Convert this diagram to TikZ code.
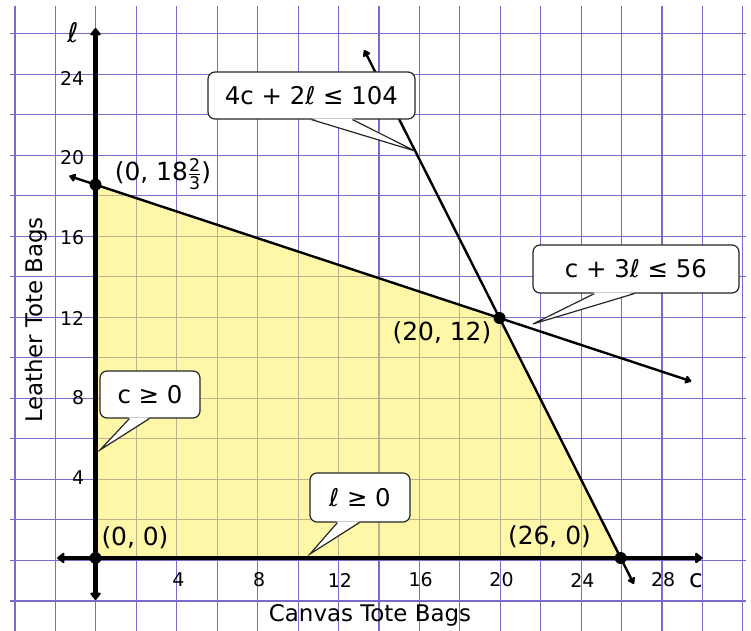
\documentclass[tikz,border=0pt]{standalone}
\usepackage{amsmath}
\usepackage{fontspec}
\setmainfont{DejaVu Sans}
\usetikzlibrary{arrows.meta,calc}
\definecolor{gridpurple}{RGB}{125,105,205}
\definecolor{gridtan}{RGB}{190,176,140}
\definecolor{feasible}{RGB}{255,247,168}
\newcommand{\mkpointer}[4]{%
  \fill[white] ($(#1.south west)+(#2,1.3)$) -- (#4) -- ($(#1.south west)+(#3,1.3)$) -- cycle;
  \draw[bubbleline] ($(#1.south west)+(#2,0)$) -- (#4) -- ($(#1.south west)+(#3,0)$);
}
\begin{document}
\begin{tikzpicture}[x=1bp,y=1bp,
  gridline/.style={draw=gridpurple, line width=1.1bp},
  gridtanline/.style={draw=gridtan, line width=1.1bp},
  axis/.style={line width=4.5bp, {Triangle[round,width=12bp,length=8bp]}-{Triangle[round,width=12bp,length=8bp]}},
  cline/.style={line width=2.4bp, {Triangle[round,width=9bp,length=7bp]}-{Triangle[round,width=9bp,length=7bp]}},
  dot/.style={circle, fill=black, inner sep=0pt, minimum size=12bp},
  ticklab/.style={font=\fontsize{19}{22}\selectfont, inner sep=1bp},
  ptlab/.style={font=\fontsize{25}{28}\selectfont, inner sep=0pt},
  axtitle/.style={font=\fontsize{23}{26}\selectfont, inner sep=0pt},
  bubble/.style={draw=black!85, line width=1.2bp, fill=white, rounded corners=7bp, inner sep=0pt, font=\fontsize{24.5}{27}\selectfont},
  bubbleline/.style={draw=black!85, line width=1.2bp}]
\useasboundingbox (0,0) rectangle (751,631);
\fill[white] (0,0) rectangle (751,631);
% data coordinates
\begin{scope}[shift={(95.5bp,73bp)},x=20.2bp,y=20bp]
  \coordinate (O) at (0,0);
  \coordinate (A) at (0,18.6667);
  \coordinate (B) at (20,12);
  \coordinate (C) at (26,0);
  \coordinate (L1s) at (13.3,25.4);
  \coordinate (L1e) at (26.65,-1.3);
  \coordinate (L2s) at (-1.3,19.1);
  \coordinate (L2e) at (29.5,8.833);
  \coordinate (XL) at (-1.9,0);
  \coordinate (XR) at (30.05,0);
  \coordinate (YB) at (0,-2.1);
  \coordinate (YT) at (0,26.5);
\end{scope}
% grid
\foreach \k in {0,...,18}{\draw[gridline] ({15+40.44*\k},0) -- ({15+40.44*\k},625);}
\foreach \j in {0,...,14}{\draw[gridline] (10,{597.3-40.52*\j}) -- (746,{597.3-40.52*\j});}
% feasible region
\fill[feasible] (O) -- (A) -- (B) -- (C) -- cycle;
\begin{scope}
  \clip (O) -- (A) -- (B) -- (C) -- cycle;
  \foreach \k in {0,...,18}{\draw[gridtanline] ({15+40.44*\k},0) -- ({15+40.44*\k},625);}
  \foreach \j in {0,...,14}{\draw[gridtanline] (10,{597.3-40.52*\j}) -- (746,{597.3-40.52*\j});}
\end{scope}
% constraint lines and axes
\draw[cline] (L1s) -- (L1e);
\draw[cline] (L2s) -- (L2e);
\draw[axis] (XL) -- (XR);
\draw[axis] (YB) -- (YT);
\node[dot] (dO) at (O) {};
\node[dot] (dA) at (A) {};
\node[dot] (dB) at (B) {};
\node[dot] (dC) at (C) {};
% tick labels
\begin{scope}[shift={(95.5bp,73bp)},x=20.2bp,y=20bp]
  \foreach \c in {4,8,...,28}{\node[ticklab] (tx\c) at (\c+0.1,-1.1) {\c};}
  \foreach \l in {4,8,...,24}{\node[ticklab,anchor=east] (ty\l) at (-0.5,\l) {\l};}
\end{scope}
% axis labels
\node[font=\fontsize{27}{29}\selectfont, inner sep=0pt] (ell) at (73,598) {ℓ};
\node[font=\fontsize{25}{27}\selectfont, inner sep=0pt] (cee) at (696,50) {c};
\node[axtitle] (xt) at (370,16) {Canvas Tote Bags};
\node[axtitle, rotate=90] (yt) at (36,311) {Leather Tote Bags};
% point labels
\node[ptlab] (pA) at (163,457) {(0, 18$\frac{\text{2}}{\text{3}}$)};
\node[ptlab] (pB) at (442,298) {(20, 12)};
\node[ptlab] (pO) at (135,93) {(0, 0)};
\node[ptlab] (pC) at (549.5,94) {(26, 0)};
% callouts
\coordinate (t1) at (415,480);
\coordinate (t2) at (533,307);
\coordinate (t3) at (100,181);
\coordinate (t4) at (310,77);
\node[bubble, minimum width=207bp, minimum height=47bp] (cb1) at (311.5,535.5) {4c + 2ℓ ≤ 104};
\mkpointer{cb1}{104}{145}{t1}
\node[bubble, minimum width=206bp, minimum height=48bp] (cb2) at (636,362) {c + 3ℓ ≤ 56};
\mkpointer{cb2}{62}{102}{t2}
\node[bubble, minimum width=100bp, minimum height=47bp] (cb3) at (150,236.5) {c ≥ 0};
\mkpointer{cb3}{30}{50}{t3}
\node[bubble, minimum width=100bp, minimum height=49bp] (cb4) at (360,133.5) {ℓ ≥ 0};
\mkpointer{cb4}{28}{50}{t4}
\end{tikzpicture}
\end{document}
